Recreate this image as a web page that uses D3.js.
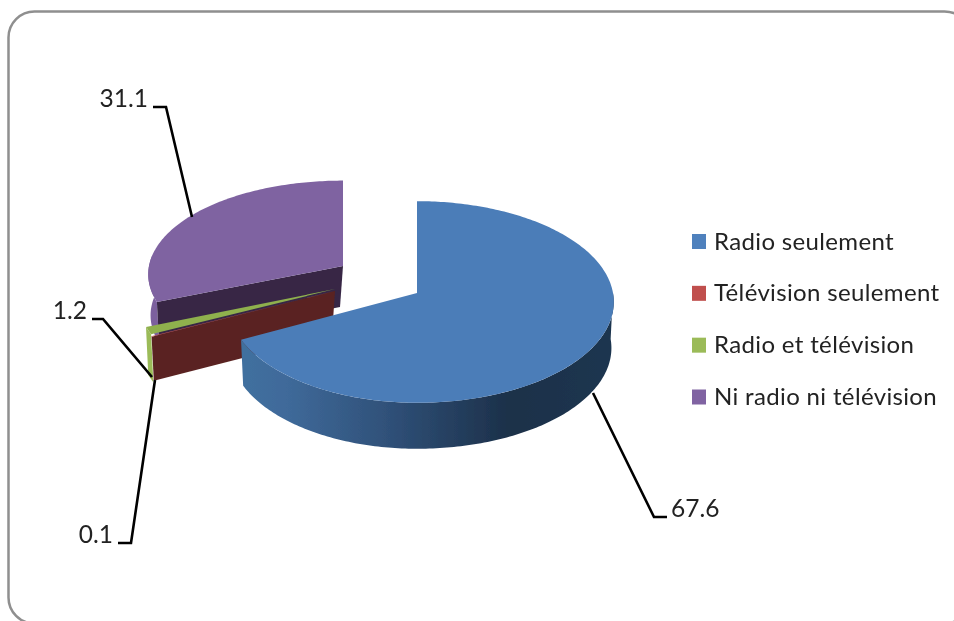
<!DOCTYPE html>
<html><head><meta charset="utf-8">
<script src="https://cdn.jsdelivr.net/npm/d3@7"></script>
<style>html,body{margin:0;background:#fff}svg{display:block}text{font-family:Lato,"Open Sans",sans-serif;fill:#222}</style>
</head><body><svg id="c" width="954" height="621"></svg>
<script>
const categories = ["Radio seulement","Télévision seulement","Radio et télévision","Ni radio ni télévision"];
const values = [67.6,0.1,1.2,31.1];
const colors = ["#4f81bd","#c0504d","#9bbb59","#8064a2"];

const svg = d3.select("#c");
const defs = svg.append("defs");
defs.append("filter").attr("id","soft").append("feGaussianBlur").attr("stdDeviation",0.45);
const grad = defs.append("linearGradient").attr("id","blueSide").attr("gradientUnits","userSpaceOnUse")
  .attr("x1",241).attr("x2",614).attr("y1",0).attr("y2",0);
[[0,"#41709f"],[0.12,"#3f6a9a"],[0.4,"#2f5078"],[0.72,"#1c3049"],[1,"#1e3650"]]
  .forEach(([o,c])=>grad.append("stop").attr("offset",o).attr("stop-color",c));

svg.append("rect").attr("x",8.5).attr("y",11.5).attr("width",962).attr("height",612).attr("rx",26)
  .attr("fill","#fff").attr("stroke","#8f8f8f").attr("stroke-width",2.5);

const root = svg.append("g").attr("filter","url(#soft)");
const arcs = d3.pie().sort(null)(values);
const k = 0.089;
const line = d3.line();

function projector(o){
  return function(a,down=false){
    const u=Math.sin(a), v=Math.cos(a), s=1/(1+k*v);
    let x=u*(u>=0?o.rxR:o.rxL)*s, y=-o.ry*v*s;
    if(down){ x*=0.988; y+=o.depth; }
    return [o.x+x,o.y+y];
  };
}
function arcPts(p,a0,a1,down=false){
  const n=Math.max(2,Math.ceil(Math.abs(a1-a0)*60));
  return d3.range(n+1).map(i=>p(a0+(a1-a0)*i/n,down));
}
const blue = {x:417,y:293,rxR:196,rxL:189,ry:100,depth:46};
const red = {x:335,y:291,rxR:197,rxL:197,ry:98,depth:44};
const green = {x:335,y:289,rxR:197,rxL:197,ry:98,depth:48};
const purple = {x:343,y:266,rxR:194,rxL:194,ry:93,depth:41};
const face=(o,p,a0,a1)=>line([[o.x,o.y],...arcPts(p,a0,a1)])+"Z";
const side=(p,a0,a1)=>line([...arcPts(p,a0,a1),...arcPts(p,a1,a0,true)])+"Z";
const inner=(o,p,a)=>{const d=p(a,true);return line([[o.x,o.y],p(a),d,[o.x-3,o.y+o.depth]])+"Z";};

// purple
let P=projector(purple), d=arcs[3];
root.append("path").attr("d",side(P,d.startAngle,d.startAngle+0.5)).attr("fill","#7c619e");
root.append("path").attr("d",inner(purple,P,d.startAngle)).attr("fill","#372845");
root.append("path").attr("d",face(purple,P,d.startAngle,d.endAngle)).attr("fill","#7f63a1");
// green
P=projector(green); d=arcs[2];
root.append("path").attr("d",side(P,d.startAngle,d.endAngle)).attr("fill",colors[2]);
root.append("path").attr("d",face(green,P,d.startAngle,d.endAngle)).attr("fill","#8fb04e");
// red
P=projector(red); d=arcs[1];
root.append("path").attr("d",inner(red,P,d.startAngle)).attr("fill","#5a2320");
root.append("path").attr("d",face(red,P,d.startAngle,d.endAngle)).attr("fill",colors[1]);
// blue
P=projector(blue); d=arcs[0];
root.append("path").attr("d",side(P,Math.PI*0.5,d.endAngle)).attr("fill","url(#blueSide)");
root.append("path").attr("d",face(blue,P,d.startAngle,d.endAngle)).attr("fill","#4c7db8");

// leaders + labels
const leaders=[
 {v:3,pts:[[192,217],[166,107],[153,107]],x:148,y:107,anchor:"end"},
 {v:2,pts:[[152,377],[103,319],[92,319]],x:87,y:319,anchor:"end"},
 {v:1,pts:[[155,380],[131,543],[118,543]],x:113,y:543,anchor:"end"},
 {v:0,pts:[[593,393],[654,517],[667,517]],x:671,y:517,anchor:"start"}
];
const fmt=d3.format(".1f");
leaders.forEach(l=>{
  root.append("path").attr("d",line(l.pts)).attr("fill","none").attr("stroke","#000").attr("stroke-width",2.6);
  root.append("text").attr("x",l.x).attr("y",l.y).attr("text-anchor",l.anchor).attr("font-size",24.5).text(fmt(values[l.v]));
});

// legend
const ly=d3.scalePoint().domain(categories).range([241.5,397]);
const lg=root.append("g").selectAll("g").data(categories).join("g").attr("transform",c=>`translate(692,${ly(c)})`);
lg.append("rect").attr("y",-7.5).attr("width",14).attr("height",15).attr("fill",(c,i)=>colors[i]);
lg.append("text").attr("x",22).attr("y",8).attr("font-size",24).attr("letter-spacing",0.35).text(c=>c);
</script></body></html>
